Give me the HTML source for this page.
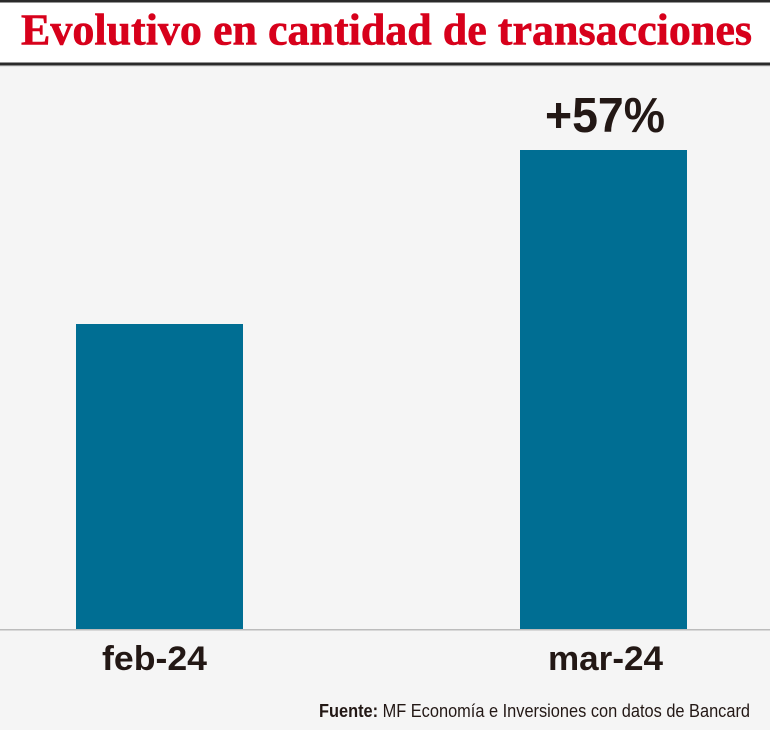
<!DOCTYPE html>
<html>
<head>
<meta charset="utf-8">
<style>
  html, body { margin: 0; padding: 0; background: #f5f5f5; }
  svg { display: block; }
</style>
</head>
<body>
<svg width="770" height="730" viewBox="0 0 770 730" xmlns="http://www.w3.org/2000/svg">
  <!-- background -->
  <rect x="0" y="0" width="770" height="730" fill="#f5f5f5"/>
  <!-- title band -->
  <rect x="0" y="0" width="770" height="64" fill="#ffffff"/>
  <rect x="0" y="0" width="770" height="2.5" fill="#2a2a2a"/>
  <rect x="0" y="62.5" width="770" height="3" fill="#2a2a2a"/>
  <rect x="0" y="65.5" width="770" height="1.5" fill="#e2e2e2"/>
  <text x="21" y="44.5" font-family="'Liberation Serif', serif" font-weight="bold" font-size="44" fill="#d7001b" stroke="#d7001b" stroke-width="0.6" textLength="731" lengthAdjust="spacingAndGlyphs">Evolutivo en cantidad de transacciones</text>

  <!-- bars -->
  <rect x="76" y="324" width="167" height="306" fill="#006e93"/>
  <rect x="520" y="150" width="167" height="480" fill="#006e93"/>

  <!-- baseline -->
  <rect x="0" y="629" width="770" height="1.5" fill="#bcbcbc"/>

  <!-- value label -->
  <text x="545" y="132" font-family="'Liberation Sans', sans-serif" font-weight="bold" font-size="49" fill="#231815" textLength="120" lengthAdjust="spacingAndGlyphs">+57%</text>

  <!-- category labels -->
  <text x="102" y="670" font-family="'Liberation Sans', sans-serif" font-weight="bold" font-size="34" fill="#231815" textLength="105" lengthAdjust="spacingAndGlyphs">feb-24</text>
  <text x="548" y="670" font-family="'Liberation Sans', sans-serif" font-weight="bold" font-size="34" fill="#231815" textLength="115" lengthAdjust="spacingAndGlyphs">mar-24</text>

  <!-- source -->
  <text x="319" y="717" font-family="'Liberation Sans', sans-serif" font-size="18" fill="#231815" textLength="431" lengthAdjust="spacingAndGlyphs"><tspan font-weight="bold">Fuente:</tspan> MF Economía e Inversiones con datos de Bancard</text>
</svg>
</body>
</html>
